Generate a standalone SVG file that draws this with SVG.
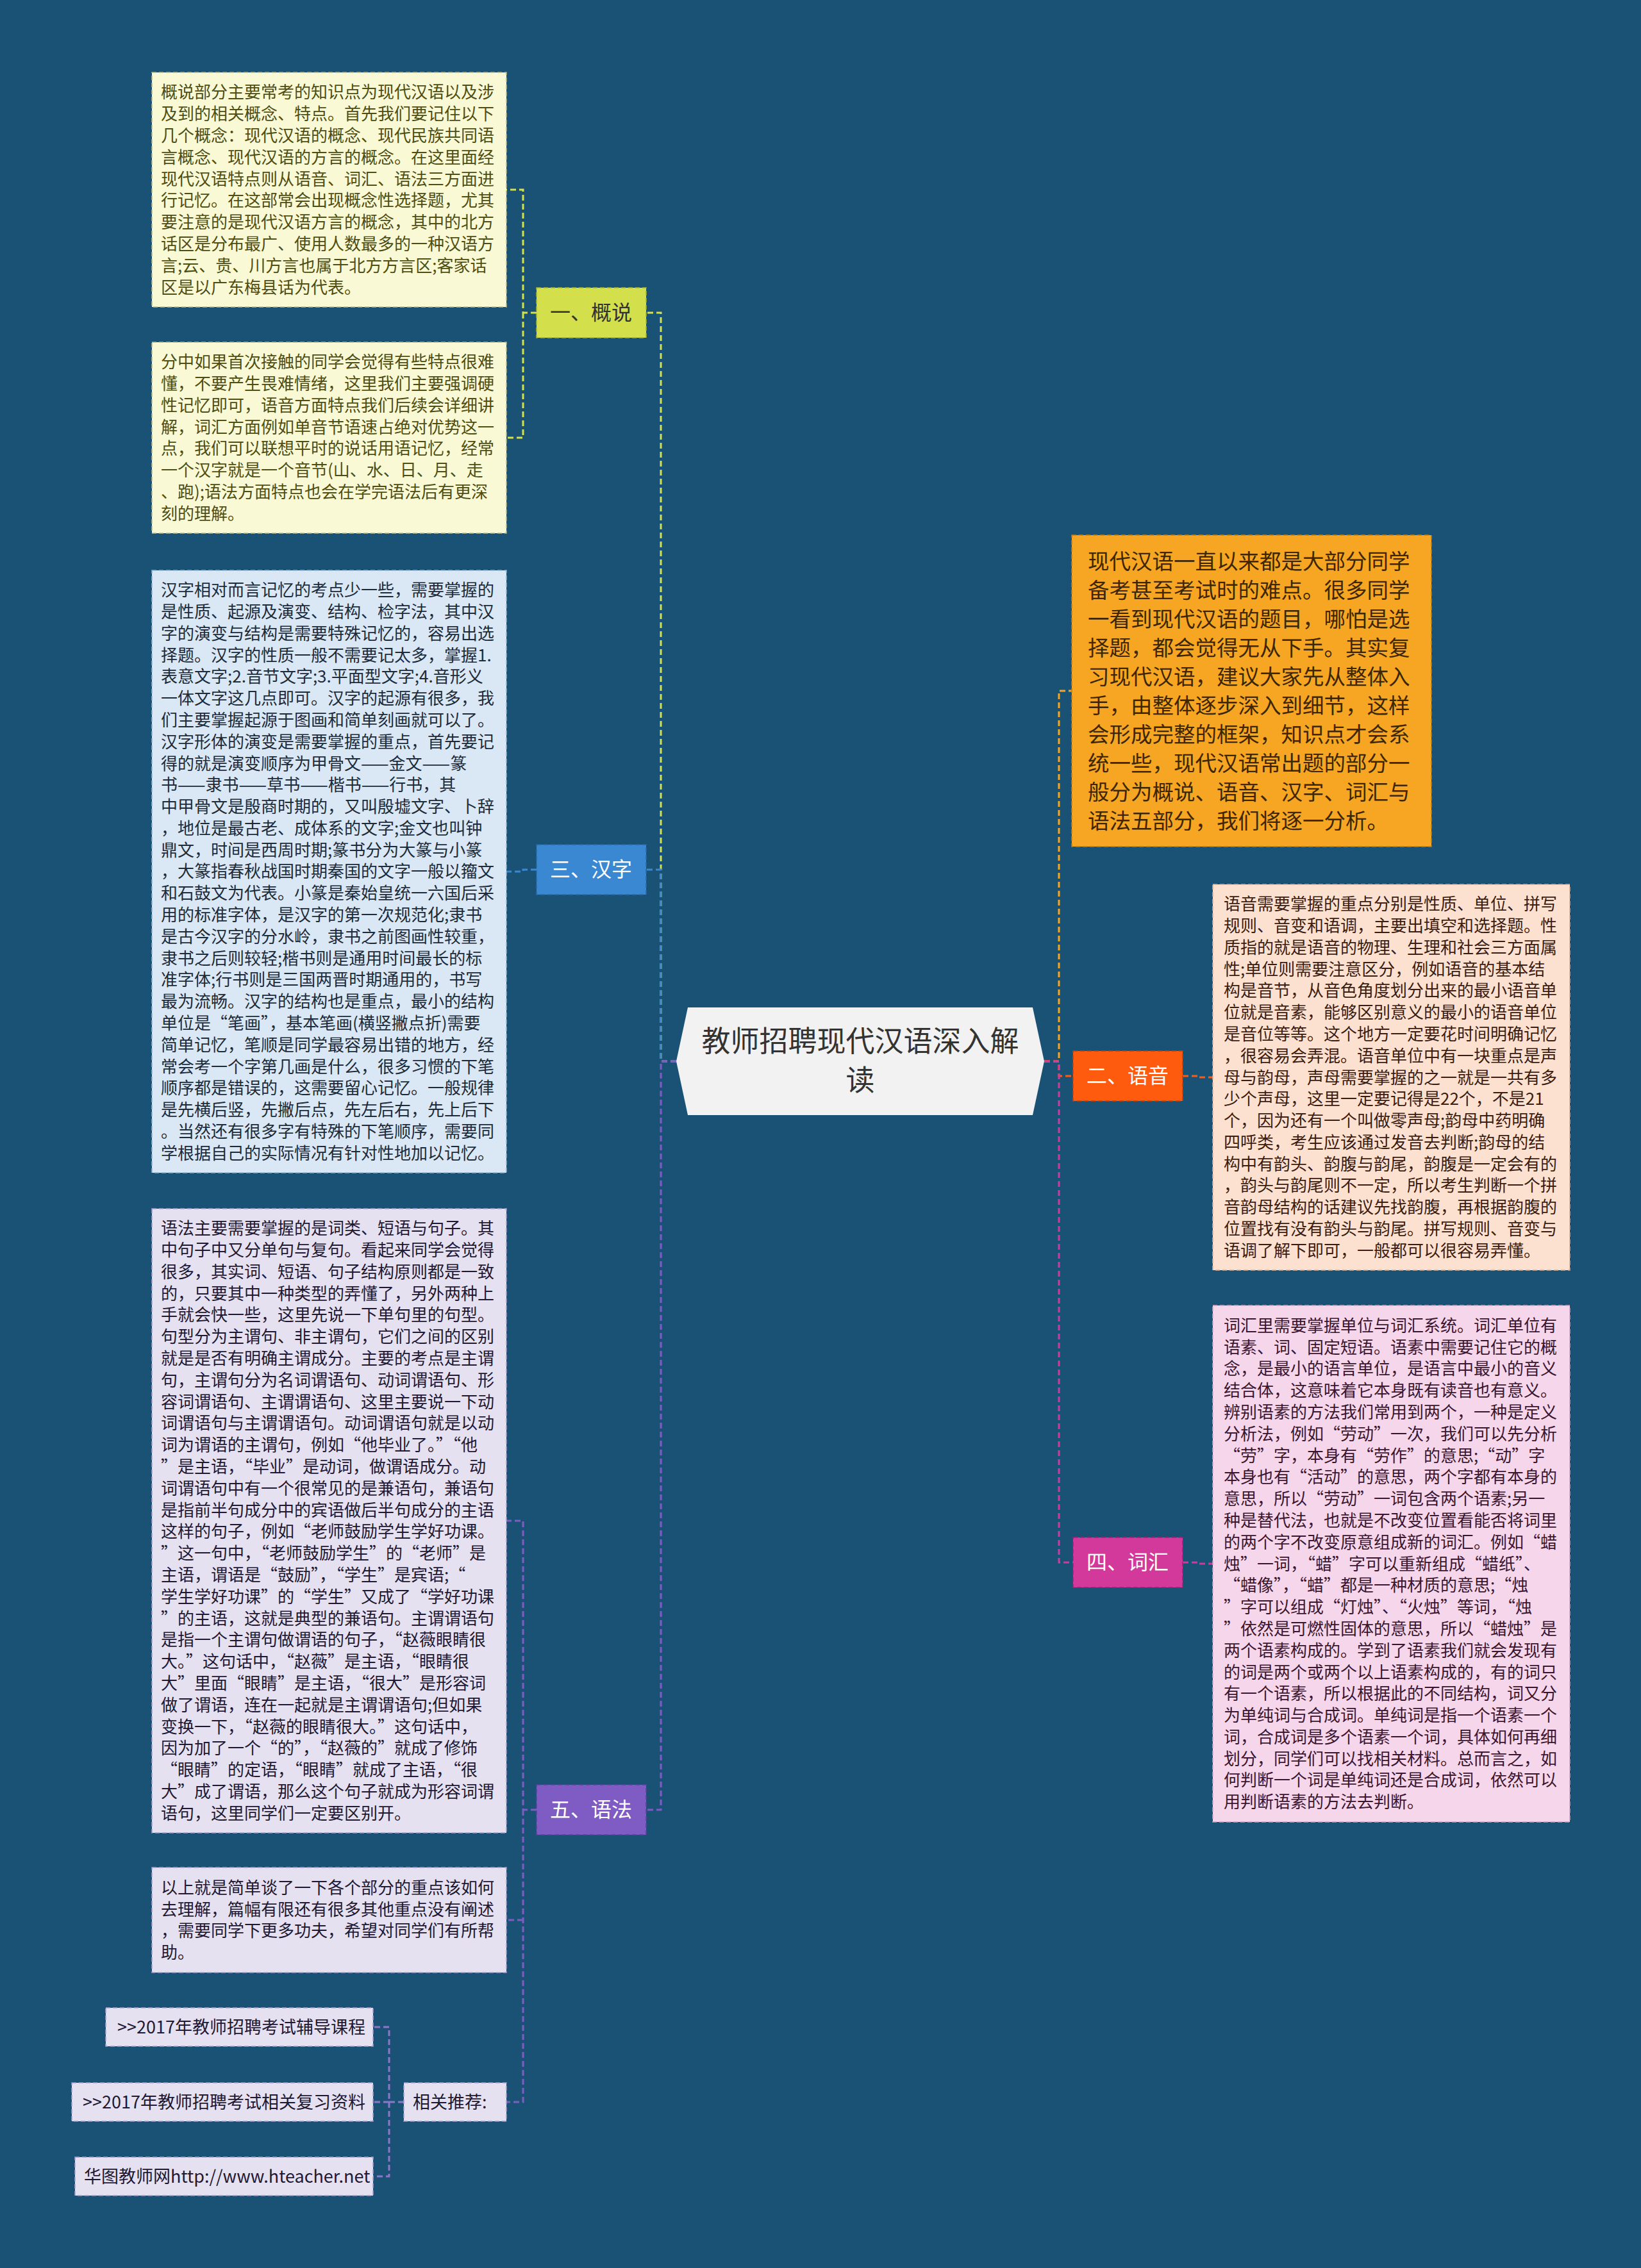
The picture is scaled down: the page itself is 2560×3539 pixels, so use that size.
<svg xmlns="http://www.w3.org/2000/svg" width="2560" height="3539" viewBox="0 0 2560 3539">
<style>
text{font-family:"Noto Sans CJK SC","Noto Sans",sans-serif}
.t{font-size:26px}
.lbl{font-size:32px;text-anchor:middle}
.cy{fill:#f9f9d6;stroke:#b9b98a;stroke-width:1.5;stroke-dasharray:7 4}
.cb{fill:#dae7f5;stroke:#93b3d6;stroke-width:1.5;stroke-dasharray:7 4}
.cp{fill:#e5e1f1;stroke:#a99ccd;stroke-width:1.5;stroke-dasharray:7 4}
.co{fill:#f6a623;stroke:#c47f0c;stroke-width:1.5;stroke-dasharray:7 4}
.cr{fill:#fde1d0;stroke:#d8ac90;stroke-width:1.5;stroke-dasharray:7 4}
.cm{fill:#f5d6ea;stroke:#cf9ebf;stroke-width:1.5;stroke-dasharray:7 4}
.ty{fill:#4e4e12}.tb{fill:#1c2b3a}.tp{fill:#1f1833}.to{fill:#3d2600}.tr{fill:#3a1c10}.tm{fill:#3a1530}
.c{fill:none;stroke-width:3;stroke-dasharray:9 5}
</style>
<rect width="2560" height="3539" fill="#1a5276"/>
<g id="connectors">
<path class="c" stroke="#d5e04f" d="M1055,1656 H1031 V488 H1008"/>
<path class="c" stroke="#3a87d2" d="M1055,1656 H1031 V1357 H1008"/>
<path class="c" stroke="#7e5cc4" d="M1055,1656 H1031 V2824 H1008"/>
<path class="c" stroke="#f5a623" d="M1629,1656 H1652 V1078 H1672"/>
<path class="c" stroke="#ff5b0f" d="M1629,1656 H1652 V1679 H1674"/>
<path class="c" stroke="#d2399a" d="M1629,1656 H1652 V2438 H1674"/>
<path class="c" stroke="#d5e04f" d="M837,488 H816 V296 H790 M816,488 V683 H790"/>
<path class="c" stroke="#3a87d2" d="M837,1357 H816 V1360 H790"/>
<path class="c" stroke="#7e5cc4" d="M837,2824 H816 V2373 H790 M816,2824 V3280 H790 M816,2996 H790"/>
<path class="c" stroke="#8e76c6" d="M630,3280 H607 V3163 H582 M607,3280 V3396 H582 M607,3280 H582"/>
<path class="c" stroke="#ff5b0f" d="M1845,1679 H1869 V1681 H1892"/>
<path class="c" stroke="#d2399a" d="M1845,2438 H1869 V2440 H1892"/>
</g>
<g id="root">
<polygon points="1055,1656 1073,1572 1611,1572 1629,1656 1611,1740 1073,1740" fill="#f2f2f2"/>
<text x="1342" y="1641" font-size="45" text-anchor="middle" fill="#333333">教师招聘现代汉语深入解</text>
<text x="1342" y="1702" font-size="45" text-anchor="middle" fill="#333333">读</text>
</g>
<g id="n-gaishuo">
<rect x="837" y="449" width="171" height="78" fill="#d3e04c" stroke="#a9b430" stroke-width="1.5" stroke-dasharray="7 4"/>
<text class="lbl" x="922" y="499" fill="#333333">一、概说</text>
</g>
<g id="n-hanzi">
<rect x="837" y="1318" width="171" height="78" fill="#3a87d2" stroke="#2a6aaa" stroke-width="1.5" stroke-dasharray="7 4"/>
<text class="lbl" x="922" y="1368" fill="#ffffff">三、汉字</text>
</g>
<g id="n-yufa">
<rect x="837" y="2785" width="171" height="78" fill="#7e5cc4" stroke="#5e40a0" stroke-width="1.5" stroke-dasharray="7 4"/>
<text class="lbl" x="922" y="2835" fill="#ffffff">五、语法</text>
</g>
<g id="n-yuyin">
<rect x="1674" y="1640" width="171" height="78" fill="#ff5b0f" stroke="#c84000" stroke-width="1.5" stroke-dasharray="7 4"/>
<text class="lbl" x="1759" y="1690" fill="#ffffff">二、语音</text>
</g>
<g id="n-cihui">
<rect x="1674" y="2399" width="171" height="78" fill="#d2399a" stroke="#a02274" stroke-width="1.5" stroke-dasharray="7 4"/>
<text class="lbl" x="1759" y="2449" fill="#ffffff">四、词汇</text>
</g>
<g id="n-intro">
<rect class="co" x="1672" y="835" width="561" height="486"/>
<text class="to" x="1697" y="887.5" font-size="33.5">
<tspan x="1697">现代汉语一直以来都是大部分同学</tspan>
<tspan x="1697" dy="45">备考甚至考试时的难点。很多同学</tspan>
<tspan x="1697" dy="45">一看到现代汉语的题目，哪怕是选</tspan>
<tspan x="1697" dy="45">择题，都会觉得无从下手。其实复</tspan>
<tspan x="1697" dy="45">习现代汉语，建议大家先从整体入</tspan>
<tspan x="1697" dy="45">手，由整体逐步深入到细节，这样</tspan>
<tspan x="1697" dy="45">会形成完整的框架，知识点才会系</tspan>
<tspan x="1697" dy="45">统一些，现代汉语常出题的部分一</tspan>
<tspan x="1697" dy="45">般分为概说、语音、汉字、词汇与</tspan>
<tspan x="1697" dy="45">语法五部分，我们将逐一分析。</tspan>
</text>
</g>
<g id="n-gaishuo-1">
<rect class="cy" x="237" y="113" width="553" height="366"/>
<text class="t ty" y="153.4">
<tspan x="251">概说部分主要常考的知识点为现代汉语以及涉</tspan>
<tspan x="251" dy="33.8">及到的相关概念、特点。首先我们要记住以下</tspan>
<tspan x="251" dy="33.8">几个概念：现代汉语的概念、现代民族共同语</tspan>
<tspan x="251" dy="33.8">言概念、现代汉语的方言的概念。在这里面经</tspan>
<tspan x="251" dy="33.8">现代汉语特点则从语音、词汇、语法三方面进</tspan>
<tspan x="251" dy="33.8">行记忆。在这部常会出现概念性选择题，尤其</tspan>
<tspan x="251" dy="33.8">要注意的是现代汉语方言的概念，其中的北方</tspan>
<tspan x="251" dy="33.8">话区是分布最广、使用人数最多的一种汉语方</tspan>
<tspan x="251" dy="33.8">言;云、贵、川方言也属于北方方言区;客家话</tspan>
<tspan x="251" dy="33.8">区是以广东梅县话为代表。</tspan>
</text>
</g>
<g id="n-gaishuo-2">
<rect class="cy" x="237" y="534" width="553" height="298"/>
<text class="t ty" y="574.2">
<tspan x="251">分中如果首次接触的同学会觉得有些特点很难</tspan>
<tspan x="251" dy="33.8">懂，不要产生畏难情绪，这里我们主要强调硬</tspan>
<tspan x="251" dy="33.8">性记忆即可，语音方面特点我们后续会详细讲</tspan>
<tspan x="251" dy="33.8">解，词汇方面例如单音节语速占绝对优势这一</tspan>
<tspan x="251" dy="33.8">点，我们可以联想平时的说话用语记忆，经常</tspan>
<tspan x="251" dy="33.8">一个汉字就是一个音节(山、水、日、月、走</tspan>
<tspan x="251" dy="33.8">、跑);语法方面特点也会在学完语法后有更深</tspan>
<tspan x="251" dy="33.8">刻的理解。</tspan>
</text>
</g>
<g id="n-hanzi-1">
<rect class="cb" x="237" y="890" width="553" height="940"/>
<text class="t tb" y="930.1">
<tspan x="251">汉字相对而言记忆的考点少一些，需要掌握的</tspan>
<tspan x="251" dy="33.8">是性质、起源及演变、结构、检字法，其中汉</tspan>
<tspan x="251" dy="33.8">字的演变与结构是需要特殊记忆的，容易出选</tspan>
<tspan x="251" dy="33.8">择题。汉字的性质一般不需要记太多，掌握1.</tspan>
<tspan x="251" dy="33.8">表意文字;2.音节文字;3.平面型文字;4.音形义</tspan>
<tspan x="251" dy="33.8">一体文字这几点即可。汉字的起源有很多，我</tspan>
<tspan x="251" dy="33.8">们主要掌握起源于图画和简单刻画就可以了。</tspan>
<tspan x="251" dy="33.8">汉字形体的演变是需要掌握的重点，首先要记</tspan>
<tspan x="251" dy="33.8">得的就是演变顺序为甲骨文——金文——篆</tspan>
<tspan x="251" dy="33.8">书——隶书——草书——楷书——行书，其</tspan>
<tspan x="251" dy="33.8">中甲骨文是殷商时期的，又叫殷墟文字、卜辞</tspan>
<tspan x="251" dy="33.8">，地位是最古老、成体系的文字;金文也叫钟</tspan>
<tspan x="251" dy="33.8">鼎文，时间是西周时期;篆书分为大篆与小篆</tspan>
<tspan x="251" dy="33.8">，大篆指春秋战国时期秦国的文字一般以籀文</tspan>
<tspan x="251" dy="33.8">和石鼓文为代表。小篆是秦始皇统一六国后采</tspan>
<tspan x="251" dy="33.8">用的标准字体，是汉字的第一次规范化;隶书</tspan>
<tspan x="251" dy="33.8">是古今汉字的分水岭，隶书之前图画性较重，</tspan>
<tspan x="251" dy="33.8">隶书之后则较轻;楷书则是通用时间最长的标</tspan>
<tspan x="251" dy="33.8">准字体;行书则是三国两晋时期通用的，书写</tspan>
<tspan x="251" dy="33.8">最为流畅。汉字的结构也是重点，最小的结构</tspan>
<tspan x="251" dy="33.8">单位是“笔画”，基本笔画(横竖撇点折)需要</tspan>
<tspan x="251" dy="33.8">简单记忆，笔顺是同学最容易出错的地方，经</tspan>
<tspan x="251" dy="33.8">常会考一个字第几画是什么，很多习惯的下笔</tspan>
<tspan x="251" dy="33.8">顺序都是错误的，这需要留心记忆。一般规律</tspan>
<tspan x="251" dy="33.8">是先横后竖，先撇后点，先左后右，先上后下</tspan>
<tspan x="251" dy="33.8">。当然还有很多字有特殊的下笔顺序，需要同</tspan>
<tspan x="251" dy="33.8">学根据自己的实际情况有针对性地加以记忆。</tspan>
</text>
</g>
<g id="n-yufa-1">
<rect class="cp" x="237" y="1886" width="553" height="974"/>
<text class="t tp" y="1926.2">
<tspan x="251">语法主要需要掌握的是词类、短语与句子。其</tspan>
<tspan x="251" dy="33.8">中句子中又分单句与复句。看起来同学会觉得</tspan>
<tspan x="251" dy="33.8">很多，其实词、短语、句子结构原则都是一致</tspan>
<tspan x="251" dy="33.8">的，只要其中一种类型的弄懂了，另外两种上</tspan>
<tspan x="251" dy="33.8">手就会快一些，这里先说一下单句里的句型。</tspan>
<tspan x="251" dy="33.8">句型分为主谓句、非主谓句，它们之间的区别</tspan>
<tspan x="251" dy="33.8">就是是否有明确主谓成分。主要的考点是主谓</tspan>
<tspan x="251" dy="33.8">句，主谓句分为名词谓语句、动词谓语句、形</tspan>
<tspan x="251" dy="33.8">容词谓语句、主谓谓语句、这里主要说一下动</tspan>
<tspan x="251" dy="33.8">词谓语句与主谓谓语句。动词谓语句就是以动</tspan>
<tspan x="251" dy="33.8">词为谓语的主谓句，例如“他毕业了。”“他</tspan>
<tspan x="251" dy="33.8">”是主语，“毕业”是动词，做谓语成分。动</tspan>
<tspan x="251" dy="33.8">词谓语句中有一个很常见的是兼语句，兼语句</tspan>
<tspan x="251" dy="33.8">是指前半句成分中的宾语做后半句成分的主语</tspan>
<tspan x="251" dy="33.8">这样的句子，例如“老师鼓励学生学好功课。</tspan>
<tspan x="251" dy="33.8">”这一句中，“老师鼓励学生”的“老师”是</tspan>
<tspan x="251" dy="33.8">主语，谓语是“鼓励”，“学生”是宾语;“</tspan>
<tspan x="251" dy="33.8">学生学好功课”的“学生”又成了“学好功课</tspan>
<tspan x="251" dy="33.8">”的主语，这就是典型的兼语句。主谓谓语句</tspan>
<tspan x="251" dy="33.8">是指一个主谓句做谓语的句子，“赵薇眼睛很</tspan>
<tspan x="251" dy="33.8">大。”这句话中，“赵薇”是主语，“眼睛很</tspan>
<tspan x="251" dy="33.8">大”里面“眼睛”是主语，“很大”是形容词</tspan>
<tspan x="251" dy="33.8">做了谓语，连在一起就是主谓谓语句;但如果</tspan>
<tspan x="251" dy="33.8">变换一下，“赵薇的眼睛很大。”这句话中，</tspan>
<tspan x="251" dy="33.8">因为加了一个“的”，“赵薇的”就成了修饰</tspan>
<tspan x="251" dy="33.8">“眼睛”的定语，“眼睛”就成了主语，“很</tspan>
<tspan x="251" dy="33.8">大”成了谓语，那么这个句子就成为形容词谓</tspan>
<tspan x="251" dy="33.8">语句，这里同学们一定要区别开。</tspan>
</text>
</g>
<g id="n-yufa-2">
<rect class="cp" x="237" y="2914" width="553" height="164"/>
<text class="t tp" y="2954.8">
<tspan x="251">以上就是简单谈了一下各个部分的重点该如何</tspan>
<tspan x="251" dy="33.8">去理解，篇幅有限还有很多其他重点没有阐述</tspan>
<tspan x="251" dy="33.8">，需要同学下更多功夫，希望对同学们有所帮</tspan>
<tspan x="251" dy="33.8">助。</tspan>
</text>
</g>
<g id="n-tuijian">
<rect class="cp" x="630" y="3250" width="160" height="60"/>
<text class="tp" x="644" y="3290" font-size="27">相关推荐:</text>
</g>
<g id="n-link-1">
<rect class="cp" x="165" y="3133" width="417" height="60"/>
<text class="tp" x="183" y="3173" font-size="27">&gt;&gt;2017年教师招聘考试辅导课程</text>
</g>
<g id="n-link-2">
<rect class="cp" x="112" y="3250" width="470" height="60"/>
<text class="tp" x="129" y="3290" font-size="27">&gt;&gt;2017年教师招聘考试相关复习资料</text>
</g>
<g id="n-link-3">
<rect class="cp" x="117" y="3366" width="465" height="60"/>
<text class="tp" x="131" y="3406" font-size="27">华图教师网http://www.hteacher.net</text>
</g>
<g id="n-yuyin-1">
<rect class="cr" x="1892" y="1380" width="557" height="602"/>
<text class="t tr" y="1420.1">
<tspan x="1909">语音需要掌握的重点分别是性质、单位、拼写</tspan>
<tspan x="1909" dy="33.8">规则、音变和语调，主要出填空和选择题。性</tspan>
<tspan x="1909" dy="33.8">质指的就是语音的物理、生理和社会三方面属</tspan>
<tspan x="1909" dy="33.8">性;单位则需要注意区分，例如语音的基本结</tspan>
<tspan x="1909" dy="33.8">构是音节，从音色角度划分出来的最小语音单</tspan>
<tspan x="1909" dy="33.8">位就是音素，能够区别意义的最小的语音单位</tspan>
<tspan x="1909" dy="33.8">是音位等等。这个地方一定要花时间明确记忆</tspan>
<tspan x="1909" dy="33.8">，很容易会弄混。语音单位中有一块重点是声</tspan>
<tspan x="1909" dy="33.8">母与韵母，声母需要掌握的之一就是一共有多</tspan>
<tspan x="1909" dy="33.8">少个声母，这里一定要记得是22个，不是21</tspan>
<tspan x="1909" dy="33.8">个，因为还有一个叫做零声母;韵母中药明确</tspan>
<tspan x="1909" dy="33.8">四呼类，考生应该通过发音去判断;韵母的结</tspan>
<tspan x="1909" dy="33.8">构中有韵头、韵腹与韵尾，韵腹是一定会有的</tspan>
<tspan x="1909" dy="33.8">，韵头与韵尾则不一定，所以考生判断一个拼</tspan>
<tspan x="1909" dy="33.8">音韵母结构的话建议先找韵腹，再根据韵腹的</tspan>
<tspan x="1909" dy="33.8">位置找有没有韵头与韵尾。拼写规则、音变与</tspan>
<tspan x="1909" dy="33.8">语调了解下即可，一般都可以很容易弄懂。</tspan>
</text>
</g>
<g id="n-cihui-1">
<rect class="cm" x="1892" y="2037" width="557" height="806"/>
<text class="t tm" y="2077.7">
<tspan x="1909">词汇里需要掌握单位与词汇系统。词汇单位有</tspan>
<tspan x="1909" dy="33.8">语素、词、固定短语。语素中需要记住它的概</tspan>
<tspan x="1909" dy="33.8">念，是最小的语言单位，是语言中最小的音义</tspan>
<tspan x="1909" dy="33.8">结合体，这意味着它本身既有读音也有意义。</tspan>
<tspan x="1909" dy="33.8">辨别语素的方法我们常用到两个，一种是定义</tspan>
<tspan x="1909" dy="33.8">分析法，例如“劳动”一次，我们可以先分析</tspan>
<tspan x="1909" dy="33.8">“劳”字，本身有“劳作”的意思;“动”字</tspan>
<tspan x="1909" dy="33.8">本身也有“活动”的意思，两个字都有本身的</tspan>
<tspan x="1909" dy="33.8">意思，所以“劳动”一词包含两个语素;另一</tspan>
<tspan x="1909" dy="33.8">种是替代法，也就是不改变位置看能否将词里</tspan>
<tspan x="1909" dy="33.8">的两个字不改变原意组成新的词汇。例如“蜡</tspan>
<tspan x="1909" dy="33.8">烛”一词，“蜡”字可以重新组成“蜡纸”、</tspan>
<tspan x="1909" dy="33.8">“蜡像”，“蜡”都是一种材质的意思;“烛</tspan>
<tspan x="1909" dy="33.8">”字可以组成“灯烛”、“火烛”等词，“烛</tspan>
<tspan x="1909" dy="33.8">”依然是可燃性固体的意思，所以“蜡烛”是</tspan>
<tspan x="1909" dy="33.8">两个语素构成的。学到了语素我们就会发现有</tspan>
<tspan x="1909" dy="33.8">的词是两个或两个以上语素构成的，有的词只</tspan>
<tspan x="1909" dy="33.8">有一个语素，所以根据此的不同结构，词又分</tspan>
<tspan x="1909" dy="33.8">为单纯词与合成词。单纯词是指一个语素一个</tspan>
<tspan x="1909" dy="33.8">词，合成词是多个语素一个词，具体如何再细</tspan>
<tspan x="1909" dy="33.8">划分，同学们可以找相关材料。总而言之，如</tspan>
<tspan x="1909" dy="33.8">何判断一个词是单纯词还是合成词，依然可以</tspan>
<tspan x="1909" dy="33.8">用判断语素的方法去判断。</tspan>
</text>
</g>
</svg>
